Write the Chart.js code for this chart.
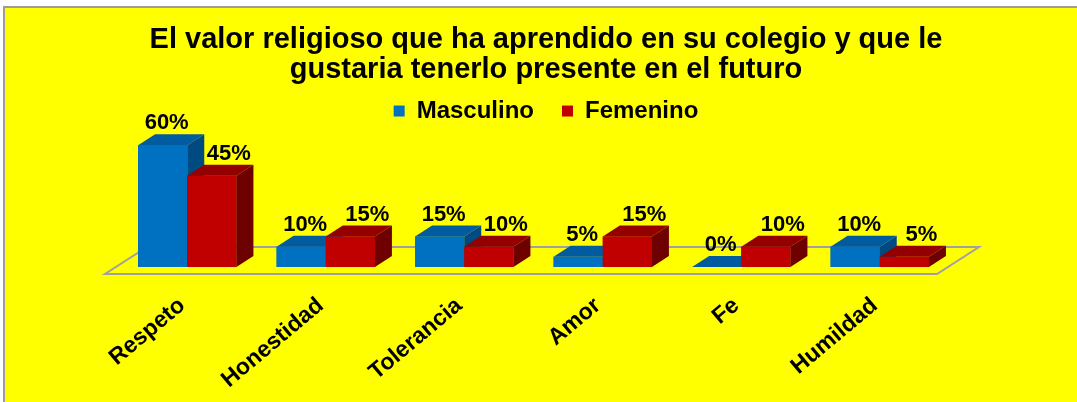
<!DOCTYPE html>
<html>
<head>
<meta charset="utf-8">
<title>Valor religioso</title>
<script src="https://cdn.jsdelivr.net/npm/chart.js@4.4.1/dist/chart.umd.min.js"></script>
<style>
  html, body { margin: 0; padding: 0; background: #ffffff; }
  #wrap { position: relative; width: 1077px; height: 402px; overflow: hidden; }
  #frame {
    position: absolute; left: 3px; top: 6px; width: 1090px; height: 410px;
    background: #ffff00;
    border-top: 2px solid #9c9c9c; border-left: 2px solid #9c9c9c;
  }
  #chart { position: absolute; left: 0; top: 0; }
</style>
</head>
<body>
<div id="wrap">
  <div id="frame"></div>
  <canvas id="chart" width="1077" height="402"></canvas>
</div>
<script>
const categories = ['Respeto', 'Honestidad', 'Tolerancia', 'Amor', 'Fe', 'Humildad'];
const masculino = [60, 10, 15, 5, 0, 10];
const femenino = [45, 15, 10, 15, 10, 5];
const seriesNames = ['Masculino', 'Femenino'];
const titleLines = [
  'El valor religioso que ha aprendido en su colegio y que le',
  'gustaria tenerlo presente en el futuro'
];

const FONT = "'Liberation Sans', Arial, sans-serif";
// depth of the extruded bars
const DX = 17, DY = 11;
const faces = [
  { front: '#0070c0', top: '#005b9f', side: '#004a82' },
  { front: '#c00000', top: '#940000', side: '#6e0000' }
];

// floor plane under the bars
const floorPlugin = {
  id: 'floor3d',
  beforeDatasetsDraw(chart) {
    const { ctx, chartArea: a } = chart;
    ctx.save();
    ctx.strokeStyle = '#a0a0a0';
    ctx.lineWidth = 2;
    ctx.beginPath();
    ctx.moveTo(a.left - 13, a.bottom + 7);
    ctx.lineTo(a.right - 12, a.bottom + 7);
    ctx.lineTo(a.right + 30, a.bottom - 20);
    ctx.lineTo(a.left + 29, a.bottom - 20);
    ctx.closePath();
    ctx.stroke();
    ctx.restore();
  }
};

// redraw each bar as a box: front, top and right side, then the value labels
const boxPlugin = {
  id: 'bars3d',
  afterDatasetsDraw(chart) {
    const ctx = chart.ctx;
    const metas = [chart.getDatasetMeta(0), chart.getDatasetMeta(1)];
    ctx.save();
    for (let i = 0; i < categories.length; i++) {
      metas.forEach((meta, d) => {
        const { x, y, base, width } = meta.data[i].getProps(['x', 'y', 'base', 'width'], true);
        const l = x - width / 2, r = x + width / 2;
        const f = faces[d];
        ctx.fillStyle = f.front;
        ctx.fillRect(l, y, width, base - y);
        ctx.fillStyle = f.top;
        ctx.beginPath();
        ctx.moveTo(l, y);
        ctx.lineTo(l + DX, y - DY);
        ctx.lineTo(r + DX, y - DY);
        ctx.lineTo(r, y);
        ctx.closePath();
        ctx.fill();
        ctx.fillStyle = f.side;
        ctx.beginPath();
        ctx.moveTo(r, y);
        ctx.lineTo(r + DX, y - DY);
        ctx.lineTo(r + DX, base - DY);
        ctx.lineTo(r, base);
        ctx.closePath();
        ctx.fill();
      });
    }
    ctx.fillStyle = '#000';
    ctx.font = 'bold 22px ' + FONT;
    ctx.textAlign = 'center';
    ctx.textBaseline = 'alphabetic';
    metas.forEach((meta, d) => {
      const values = chart.data.datasets[d].data;
      meta.data.forEach((bar, i) => {
        const { x, y } = bar.getProps(['x', 'y'], true);
        const lx = d === 0 ? x + 4 : x + DX;
        ctx.fillText(values[i] + '%', lx, y - DY - 5);
      });
    });
    ctx.restore();
  }
};

new Chart(document.getElementById('chart'), {
  type: 'bar',
  data: {
    labels: categories,
    datasets: [
      { label: seriesNames[0], data: masculino, backgroundColor: faces[0].front, borderWidth: 0 },
      { label: seriesNames[1], data: femenino, backgroundColor: faces[1].front, borderWidth: 0 }
    ]
  },
  options: {
    responsive: false,
    animation: false,
    categoryPercentage: 0.71,
    barPercentage: 1.0,
    layout: { padding: { top: 25, left: 15, right: 0, bottom: 0 } },
    plugins: {
      title: {
        display: true,
        text: titleLines,
        color: '#000',
        font: { family: FONT, size: 29, weight: 'bold', lineHeight: 1.035 },
        padding: { top: 0, bottom: -14 }
      },
      legend: {
        display: true,
        labels: {
          color: '#000',
          boxWidth: 11,
          boxHeight: 11,
          padding: 28,
          font: { family: FONT, size: 24, weight: 'bold' }
        }
      },
      tooltip: { enabled: false }
    },
    scales: {
      x: {
        grid: { display: false },
        border: { display: false },
        ticks: {
          color: '#000',
          font: { family: FONT, size: 23, weight: 'bold' },
          minRotation: 40,
          maxRotation: 40,
          padding: 17,
          labelOffset: -5
        },
        afterFit(scale) { scale.height = 135; }
      },
      y: {
        min: 0,
        max: 66,
        grid: { display: false },
        border: { display: false },
        ticks: { display: false },
        afterFit(scale) { scale.width = 103; }
      },
      yRight: {
        type: 'linear',
        position: 'right',
        grid: { display: false },
        border: { display: false },
        ticks: { display: false },
        afterFit(scale) { scale.width = 128; }
      }
    }
  },
  plugins: [floorPlugin, boxPlugin]
});
</script>
</body>
</html>
